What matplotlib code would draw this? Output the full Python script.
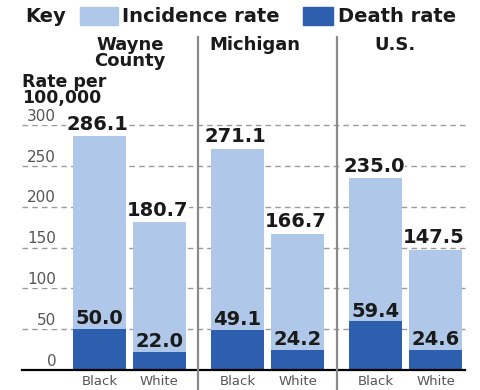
import matplotlib
matplotlib.use("Agg")
import matplotlib.pyplot as plt
from matplotlib.patches import Rectangle
from matplotlib.lines import Line2D

groups = ["Wayne\nCounty", "Michigan", "U.S."]
races = ["Black", "White"]
incidence = [286.1, 180.7, 271.1, 166.7, 235.0, 147.5]
death = [50.0, 22.0, 49.1, 24.2, 59.4, 24.6]
yticks = [0, 50, 100, 150, 200, 250, 300]

LIGHT = "#afc8e9"
DARK = "#2e5eae"
W, H = 481, 390

fig = plt.figure(figsize=(W / 100, H / 100), dpi=100)
plt.rcParams['font.family'] = ['DejaVu Sans']

def fx(x):
    return x / W

def fy(y):
    return 1 - y / H

# axes: x pixels 22..465, y: 0 at 370, 300 at 125
ax = fig.add_axes([fx(22), fy(370), (465 - 22) / W, (370 - 125) / H])
ax.set_xlim(-1.29, 6.09)
ax.set_ylim(0, 300)
ax.axis("off")

positions = []
for gi in range(3):
    for ri in range(2):
        positions.append(gi * 2.3 + ri)

# gridlines
for t in yticks[1:]:
    ax.plot([-1.29, 6.09], [t, t], color="#9a9a9a", lw=1.0, ls=(0, (4, 3)), zorder=0,
            clip_on=False)

ax.bar(positions, incidence, width=0.88, color=LIGHT, zorder=2)
ax.bar(positions, death, width=0.88, color=DARK, zorder=3)

# baseline
ax.plot([-1.29, 6.09], [0, 0], color="black", lw=1.6, zorder=8, clip_on=False)

# tick labels
for t in yticks:
    ax.text(-0.72, t + 1.5, f"{t}", ha="right", va="bottom", fontsize=11, color="#555555",
            zorder=5, bbox=dict(boxstyle="square,pad=0.05", fc="white", ec="none"))

# value labels
for p, v in zip(positions, incidence):
    ax.text(p - 0.03, v + 3, f"{v:.1f}", ha="center", va="bottom", fontsize=14,
            fontweight="bold", color="#1a1a1a", zorder=6,
            bbox=dict(boxstyle="square,pad=0.02", fc="white", ec="none"))
for p, v in zip(positions, death):
    ax.text(p, v + 1, f"{v:.1f}", ha="center", va="bottom", fontsize=14,
            fontweight="bold", color="#1a1a1a", zorder=6)

# category labels
for p, gi in zip(positions, range(6)):
    ax.text(p, -6, races[gi % 2], ha="center", va="top", fontsize=9.5, color="#555555",
            clip_on=False)

# separators
for sx in [198, 337]:
    fig.add_artist(Line2D([fx(sx), fx(sx)], [fy(37), fy(390)], color="#8a8a8a", lw=1.6))

# group titles
title_x = [130, 255, 395]
for g, tx in zip(groups, title_x):
    fig.text(fx(tx), fy(36), g, ha="center", va="top", fontsize=13, fontweight="bold",
             color="#1a1a1a", linespacing=0.85)

fig.text(fx(22), fy(73), "Rate per\n100,000", ha="left", va="top", fontsize=12.5,
         fontweight="bold", color="#1a1a1a", linespacing=0.85)

# key
fig.text(fx(25), fy(16), "Key", ha="left", va="center", fontsize=14, fontweight="bold",
         color="#1a1a1a")
fig.add_artist(Rectangle((fx(80), fy(25)), (118 - 80) / W, 18 / H, color=LIGHT,
                         transform=fig.transFigure))
fig.text(fx(122), fy(16), "Incidence rate", ha="left", va="center", fontsize=14,
         fontweight="bold", color="#1a1a1a")
fig.add_artist(Rectangle((fx(303), fy(25)), (333 - 303) / W, 18 / H, color=DARK,
                         transform=fig.transFigure))
fig.text(fx(338), fy(16), "Death rate", ha="left", va="center", fontsize=14,
         fontweight="bold", color="#1a1a1a")

fig.savefig("out.png", dpi=100)
